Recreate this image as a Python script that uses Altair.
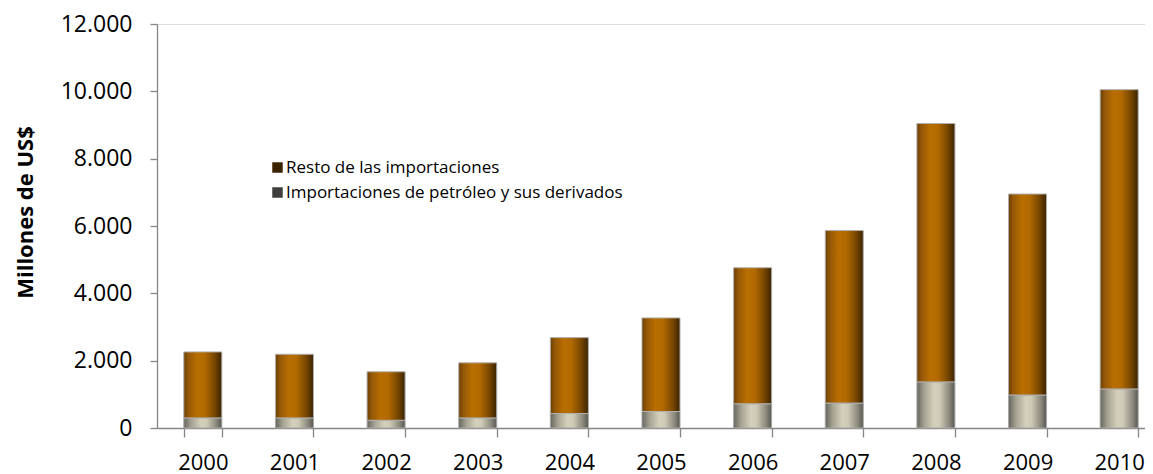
import altair as alt
import pandas as pd

years = ["2000", "2001", "2002", "2003", "2004", "2005", "2006", "2007", "2008", "2009", "2010"]
total = [2260, 2190, 1670, 1935, 2685, 3270, 4760, 5865, 9045, 6950, 10050]
petroleo = [300, 300, 230, 300, 430, 490, 720, 740, 1370, 980, 1160]

serie_resto = "Resto de las importaciones"
serie_petro = "Importaciones de petróleo y sus derivados"
legend_colors = ["#3a2300", "#3e3e3c"]

df = pd.DataFrame({"year": years, "total": total, "petroleo": petroleo})
long_rows = []
for y, t, p in zip(years, total, petroleo):
    long_rows.append({"year": y, "serie": serie_petro, "value": p, "ord": 0})
    long_rows.append({"year": y, "serie": serie_resto, "value": t - p, "ord": 1})
df_long = pd.DataFrame(long_rows)

FONT = "Open Sans"
AX = "#868686"

x_enc = alt.X(
    "year:N",
    title=None,
    sort=years,
    scale=alt.Scale(paddingInner=0.585, paddingOuter=0.2925, range=[0, 1008]),
    axis=alt.Axis(
        tickBand="extent",
        labelFont=FONT, labelFontSize=22, labelColor="#000000", labelAngle=0,
        labelPadding=15, tickSize=9, tickColor=AX, domainColor=AX,
        tickWidth=1.3, domainWidth=1.3,
    ),
)

y_scale = alt.Scale(domain=[0, 12000], nice=False)
y_axis = alt.Axis(
    values=[0, 2000, 4000, 6000, 8000, 10000, 12000],
    labelExpr="replace(format(datum.value, ','), ',', '.')",
    labelFont=FONT, labelFontSize=23, labelColor="#000000",
    labelPadding=18, tickSize=7, tickColor=AX, domainColor=AX,
    tickWidth=1.3, domainWidth=1.3, grid=False,
    title="Millones de US$", titleFont=FONT, titleFontSize=22,
    titleFontWeight="bold", titleColor="#000000",
    titleX=-132, titleY=188, titleAngle=270, titleAlign="center",
    titleBaseline="middle",
)

orange_grad = alt.LinearGradient(
    gradient="linear", x1=0, x2=1, y1=0, y2=0,
    stops=[
        alt.GradientStop(offset=0, color="#6a3e00"),
        alt.GradientStop(offset=0.12, color="#955808"),
        alt.GradientStop(offset=0.35, color="#b86e00"),
        alt.GradientStop(offset=0.55, color="#b26a00"),
        alt.GradientStop(offset=0.8, color="#7a4800"),
        alt.GradientStop(offset=1, color="#3a2300"),
    ],
)
gray_grad = alt.LinearGradient(
    gradient="linear", x1=0, x2=1, y1=0, y2=0,
    stops=[
        alt.GradientStop(offset=0, color="#66665e"),
        alt.GradientStop(offset=0.2, color="#a6a393"),
        alt.GradientStop(offset=0.45, color="#d4d0bb"),
        alt.GradientStop(offset=0.6, color="#cfcab5"),
        alt.GradientStop(offset=0.85, color="#8c8a7e"),
        alt.GradientStop(offset=1, color="#585852"),
    ],
)

legend_layer = alt.Chart(df_long).mark_bar(opacity=0).encode(
    x=x_enc,
    y=alt.Y("value:Q", stack="zero", scale=y_scale, axis=y_axis),
    order=alt.Order("ord:Q"),
    color=alt.Color(
        "serie:N",
        scale=alt.Scale(domain=[serie_resto, serie_petro], range=legend_colors),
        legend=alt.Legend(
            title=None, orient="none", legendX=112, legendY=135,
            symbolType="square", symbolSize=110, symbolOpacity=1,
            symbolStrokeWidth=0, labelFont=FONT, labelFontSize=17,
            labelColor="#000000", labelOffset=0, rowPadding=7,
            labelLimit=600,
        ),
    ),
)

petro_layer = alt.Chart(df).mark_bar(
    fill=gray_grad, stroke="#a8a8a8", strokeWidth=1
).encode(
    x=x_enc,
    y=alt.Y("petroleo:Q", scale=y_scale),
)

resto_layer = alt.Chart(df).mark_bar(
    fill=orange_grad, stroke="#b0b0b0", strokeWidth=1
).encode(
    x=x_enc,
    y=alt.Y("petroleo:Q", scale=y_scale),
    y2="total:Q",
)

chart = alt.layer(legend_layer, petro_layer, resto_layer).properties(
    width=988,
    height=404,
    autosize=alt.AutoSizeParams(type="none"),
    padding={"left": 149, "top": 16, "right": 0, "bottom": 46},
).configure_view(stroke=None).configure(background="#ffffff")

chart.save("out.html", embed_options={"renderer": "svg", "actions": False})
